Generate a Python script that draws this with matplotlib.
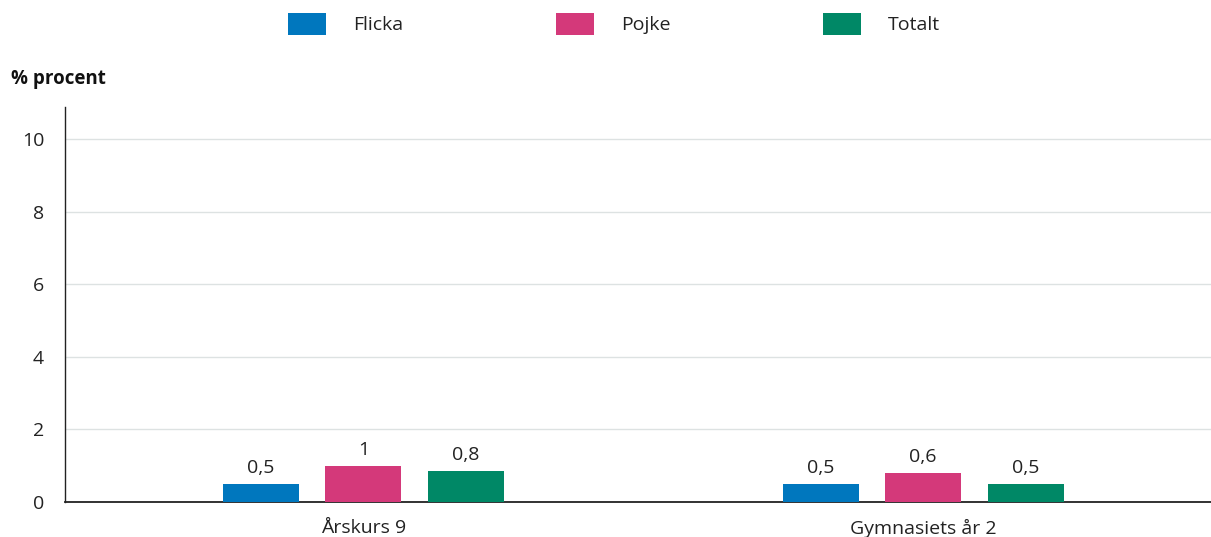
import matplotlib
matplotlib.use("Agg")
import matplotlib.pyplot as plt
import numpy as np

categories = ["Årskurs 9", "Gymnasiets år 2"]
series_names = ["Flicka", "Pojke", "Totalt"]
flicka = [0.5, 0.5]
pojke = [1.0, 0.8]
totalt = [0.85, 0.5]
flicka_labels = ["0,5", "0,5"]
pojke_labels = ["1", "0,6"]
totalt_labels = ["0,8", "0,5"]
y_ticks = [0, 2, 4, 6, 8, 10]
colors = ["#0077BE", "#D4397A", "#008866"]

plt.rcParams['font.family'] = ['Open Sans', 'DejaVu Sans']

fig = plt.figure(figsize=(12.11, 5.37), dpi=100)
ax = fig.add_axes([65/1211, 1 - 502/537, 1 - 65/1211, (502 - 107)/537])

x = np.arange(len(categories))
width = 0.1357
offset = 0.183
series = [flicka, pojke, totalt]
labels = [flicka_labels, pojke_labels, totalt_labels]
for i, (vals, labs, name, c) in enumerate(zip(series, labels, series_names, colors)):
    bars = ax.bar(x + (i - 1) * offset, vals, width, color=c, label=name, zorder=3)
    for b, lab in zip(bars, labs):
        ax.annotate(lab, (b.get_x() + b.get_width() / 2, b.get_height()),
                    xytext=(0, 5), textcoords="offset points", ha="center", va="bottom",
                    fontsize=14, color="#222222")

ax.set_xlim(-0.533, 0.514 + 1)
ax.set_ylim(0, 10.88)
ax.set_yticks(y_ticks)
ax.set_yticklabels([str(t) for t in y_ticks])
ax.set_xticks(x)
ax.set_xticklabels(categories)
ax.tick_params(axis="y", length=0, pad=15, labelsize=14, labelcolor="#222222")
ax.tick_params(axis="x", length=0, pad=12, labelsize=14, labelcolor="#222222")
ax.grid(axis="y", color="#dde2e2", linewidth=1, zorder=0)
for s in ["top", "right"]:
    ax.spines[s].set_visible(False)
ax.spines["left"].set_color("#222222")
ax.spines["left"].set_linewidth(1)
ax.spines["bottom"].set_color("#222222")
ax.spines["bottom"].set_linewidth(1.3)

fig.text(11/1211, 1 - 79/537, "% procent", fontsize=13.5, fontweight="bold", va="center", ha="left", color="#111111")

fig.legend(loc="center", bbox_to_anchor=(614/1211, 1 - 24/537), ncol=3, frameon=False,
           fontsize=14, handlelength=1.95, handleheight=1.4, handletextpad=1.4,
           columnspacing=7.85, labelcolor="#222222")

fig.savefig("out.png", dpi=100)
